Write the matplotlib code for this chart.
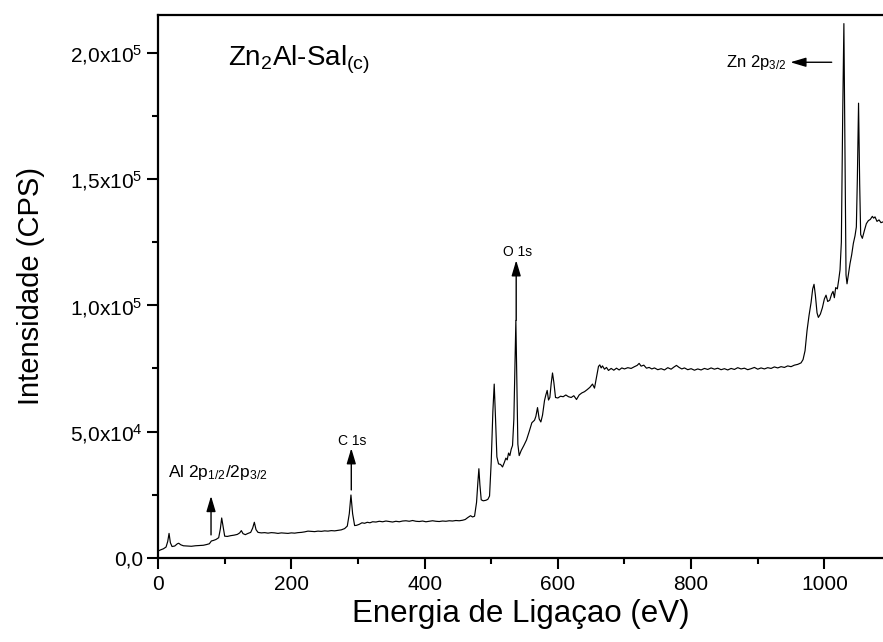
import numpy as np
import matplotlib
matplotlib.use("Agg")
import matplotlib.pyplot as plt
from matplotlib.ticker import MultipleLocator, FixedLocator, FixedFormatter

plt.rcParams['font.family'] = ['Liberation Sans', 'DejaVu Sans']
plt.rcParams['mathtext.fontset'] = 'custom'
plt.rcParams['mathtext.rm'] = 'Liberation Sans'
plt.rcParams['mathtext.it'] = 'Liberation Sans'
plt.rcParams['mathtext.default'] = 'regular'

# binding energy (eV) and intensity (CPS)
energy = [0, 4, 8, 12, 14.5, 16.5, 18.5, 21, 25, 29, 31, 34, 38, 44, 50, 56, 62, 68, 73, 77,
          80, 83, 87, 91, 93.5, 95.5, 97.5, 100, 104, 109, 114, 119, 122.5, 125, 127.5, 131, 135, 139, 142, 144.5,
          147, 150, 155, 160, 165, 170, 175, 180, 185, 190, 195, 200, 205, 210, 215, 220, 225, 230, 235, 240,
          245, 250, 255, 260, 265, 270, 275, 280, 284, 287, 289.5, 292, 295, 298, 302, 306, 310, 314, 318, 322,
          327, 332, 337, 342, 347, 352, 357, 362, 367, 372, 377, 382, 387, 392, 397, 402, 407, 412, 417, 422,
          427, 432, 437, 442, 447, 452, 457, 461, 465, 469, 472, 475, 478, 480, 481.5, 483, 485, 488, 492, 495,
          497.5, 500, 502.5, 504.5, 506.5, 508.5, 511, 514, 517, 520, 522, 524, 526, 528, 530, 532, 534, 535.5, 537, 538.5,
          540, 542, 545, 549, 553, 557, 561, 565, 567, 569.5, 572, 574.5, 577, 580, 582, 584, 586, 588, 590, 592,
          594, 596.5, 600, 604, 608, 612, 616, 620, 624, 628, 632, 636, 640, 644, 648, 652, 655, 658, 661, 663,
          665, 667, 670, 673, 676, 680, 684, 688, 692, 696, 700, 705, 710, 715, 719, 722, 725, 729, 733, 737,
          741, 745, 750, 755, 760, 765, 770, 774, 778, 782, 786, 790, 795, 800, 805, 810, 815, 820, 825, 830,
          835, 840, 845, 850, 855, 860, 865, 870, 875, 880, 885, 890, 895, 900, 905, 910, 915, 920, 925, 930,
          935, 940, 945, 950, 955, 960, 965, 968, 971, 974, 977, 980, 982.5, 984.5, 986.5, 989, 991, 994, 997, 1000,
          1002.5, 1005, 1008, 1011, 1013, 1015, 1017, 1019.5, 1021.5, 1023.5, 1025.5, 1027.5, 1029.3, 1031, 1032.5, 1034, 1036, 1038.5, 1041, 1043.5,
          1046, 1048, 1049.5, 1051.3, 1053, 1054.5, 1057, 1060, 1063, 1066, 1069, 1072, 1074, 1076, 1079, 1082, 1085, 1088]
cps = [2700, 3200, 3600, 4300, 6500, 9700, 6000, 4500, 4700, 5600, 5800, 5200, 4800, 4700, 4600, 4800, 4900, 5000, 5300, 5600,
       6700, 6900, 7300, 8000, 11500, 15800, 12500, 8600, 8500, 8800, 9000, 9300, 9900, 10800, 9600, 9200, 9700, 10100, 11800, 14100,
       11200, 10100, 9900, 10000, 9800, 10000, 9900, 9700, 9900, 9800, 9700, 9900, 9800, 10000, 10100, 10300, 10600, 10500, 10400, 10600,
       10500, 10700, 10600, 10800, 10700, 10900, 11100, 11600, 12600, 17500, 24900, 17500, 12800, 12900, 13300, 13900, 13700, 14100, 13900, 14300,
       14200, 14500, 14300, 14600, 14400, 14200, 14500, 14300, 14600, 14700, 14500, 14800, 14500, 14400, 14600, 14300, 14500, 14700, 14500, 14400,
       14600, 14500, 14700, 14600, 14800, 14700, 14900, 15200, 16000, 16700, 16200, 16500, 22000, 30000, 35300, 29000, 23000, 22600, 22800, 23200,
       24500, 38000, 58000, 68800, 55000, 40000, 37200, 37000, 36000, 38000, 39500, 38800, 41500, 40500, 43000, 44500, 55000, 75000, 94000, 70000,
       45000, 40500, 42500, 44500, 46700, 50000, 53500, 54500, 56000, 59500, 55000, 53800, 56500, 62300, 64500, 66300, 62500, 63500, 69000, 73200,
       69500, 63500, 63300, 64000, 63800, 64500, 63800, 63500, 64200, 62700, 64500, 65300, 65800, 66600, 67500, 68800, 67200, 71500, 75800, 76400,
       75200, 76000, 74700, 75400, 74200, 75000, 74300, 75100, 74400, 75200, 74800, 75300, 75000, 75700, 76200, 77000, 75900, 76300, 75100, 75400,
       74800, 75200, 74500, 74900, 74400, 75300, 74700, 75500, 76200, 75400, 74800, 75200, 74500, 74900, 74300, 74800, 74400, 75000, 74600, 75200,
       74700, 75100, 74500, 74900, 74400, 75000, 74600, 75300, 74800, 75100, 74500, 74900, 75400, 74700, 75200, 74800, 75300, 75000, 75600, 75200,
       75700, 75400, 76000, 75700, 76300, 76600, 77200, 78500, 82000, 90000, 96000, 101000, 106500, 108300, 104000, 97000, 95200, 96500, 99000, 102500,
       104000, 101500, 102000, 104500, 105500, 103000, 107000, 106500, 110000, 114000, 125000, 175000, 211500, 160000, 112000, 108500, 112000, 116500, 120000, 124500,
       127500, 131000, 150000, 180000, 148000, 128000, 126500, 129500, 132300, 133500, 134000, 135200, 134500, 135000, 133200, 133800, 132700, 133000]

ytick_vals = [0, 5e4, 1e5, 1.5e5, 2e5]
ytick_labels = ['0,0', '5,0x10$^4$', '1,0x10$^5$', '1,5x10$^5$', '2,0x10$^5$']

fig = plt.figure(figsize=(8.83, 6.42), dpi=100)
ax = fig.add_axes([0.179, 0.131, 0.821, 0.846])
ax.plot(energy, cps, color='black', lw=0.85)

ax.set_xlim(0, 1088)
ax.set_ylim(0, 2.15e5)
ax.xaxis.set_major_locator(MultipleLocator(200))
ax.xaxis.set_minor_locator(MultipleLocator(100))
ax.yaxis.set_major_locator(FixedLocator(ytick_vals))
ax.yaxis.set_major_formatter(FixedFormatter(ytick_labels))
ax.yaxis.set_minor_locator(MultipleLocator(2.5e4))
ax.tick_params(which='major', direction='out', length=8, width=1.5, labelsize=15, pad=4)
ax.tick_params(which='minor', direction='out', length=4.5, width=1.5)
ax.tick_params(axis='y', which='major', pad=3)
for s in ['left', 'bottom', 'top']:
    ax.spines[s].set_linewidth(1.6)
ax.spines['right'].set_visible(False)

ax.set_xlabel('Energia de Ligaçao (eV)', fontsize=22.5, labelpad=4)
ax.set_ylabel('Intensidade (CPS)', fontsize=21, labelpad=18)

ax.text(105, 195000, 'Zn$_2$Al-Sal$_{(c)}$', fontsize=20, va='baseline')

arrow = dict(arrowstyle='-|>,head_length=0.47,head_width=0.14', color='black', lw=1,
             mutation_scale=20, shrinkA=0, shrinkB=0)
ax.annotate('', xy=(79.5, 24500), xytext=(79.5, 9100), arrowprops=arrow)
ax.text(15.5, 32000, 'Al 2p$_{1/2}$/2p$_{3/2}$', fontsize=12.5, va='baseline')
ax.annotate('', xy=(290, 43400), xytext=(290, 26900), arrowprops=arrow)
ax.text(292, 44800, 'C 1s', fontsize=10, va='baseline', ha='center')
ax.annotate('', xy=(537.5, 117800), xytext=(537.5, 94000), arrowprops=arrow)
ax.text(539.5, 119400, 'O 1s', fontsize=10, va='baseline', ha='center')
ax.annotate('', xy=(949, 196200), xytext=(1011, 196200), arrowprops=arrow)
ax.text(853, 194200, 'Zn 2p$_{3/2}$', fontsize=12, va='baseline')

fig.savefig('out.png', dpi=100)
